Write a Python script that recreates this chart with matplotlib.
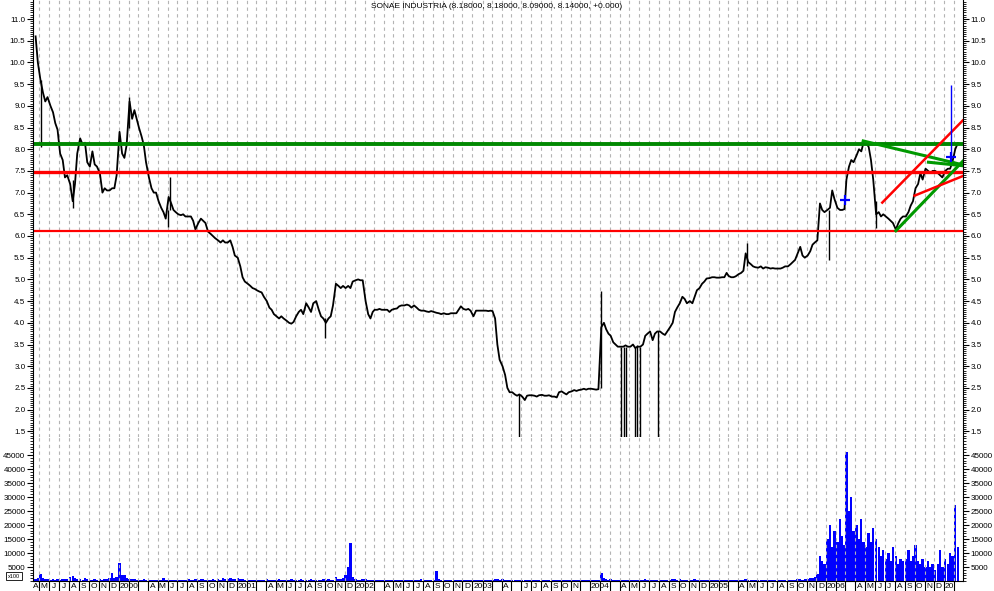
import matplotlib
matplotlib.use("Agg")
import matplotlib.pyplot as plt
import matplotlib.dates as mdates
from matplotlib.ticker import MultipleLocator, FixedLocator
import pandas as pd

plt.rcParams['font.family'] = ['Liberation Sans', 'DejaVu Sans']

title = "SONAE INDUSTRIA (8.18000, 8.18000, 8.09000, 8.14000, +0.000)"

# four readings per month (days 4, 12, 19, 26), from mid April 1999 to mid February 2007
closes = [
    10.6, 10.0,                                   # 1999 Apr
    9.6, 9.3, 9.1, 9.2,  9.0, 8.85, 8.6, 8.45,  7.9, 7.75, 7.35, 7.4,
    7.2, 6.8, 7.2, 7.9,  8.25, 8.1, 8.15, 7.7,  7.6, 7.95, 7.65, 7.6,
    7.45, 7.0, 7.1, 7.05,  7.05, 7.1, 7.1, 7.4,
    8.4, 7.9, 7.8, 8.1,  9.1, 8.7, 8.9, 8.7,  8.5, 8.3, 8.1, 7.7,      # 2000
    7.35, 7.1, 7.0, 7.0,  6.8, 6.65, 6.55, 6.4,  6.9, 6.75, 6.6, 6.55,
    6.5, 6.48, 6.5, 6.45,  6.45, 6.45, 6.35, 6.15,  6.3, 6.4, 6.35, 6.3,
    6.1, 6.05, 6.0, 5.95,  5.9, 5.85, 5.9, 5.85,  5.85, 5.9, 5.75, 5.55,
    5.5, 5.3, 5.05, 4.95,  4.9, 4.85, 4.8, 4.78,  4.75, 4.72, 4.7, 4.6,  # 2001
    4.5, 4.35, 4.3, 4.2,  4.15, 4.1, 4.15, 4.1,  4.05, 4.0, 3.98, 4.02,
    4.15, 4.25, 4.3, 4.2,  4.45, 4.35, 4.25, 4.45,  4.5, 4.3, 4.15, 4.1,
    4.0, 4.1, 4.15, 4.4,  4.9, 4.85, 4.8, 4.85,  4.8, 4.85, 4.8, 4.95,
    4.98, 5.0, 4.98, 4.98,  4.5, 4.2, 4.1, 4.25,  4.3, 4.3, 4.32, 4.3,  # 2002
    4.3, 4.3, 4.25, 4.3,  4.32, 4.33, 4.38, 4.4,  4.4, 4.42, 4.4, 4.35,
    4.4, 4.35, 4.3, 4.28,  4.28, 4.26, 4.25, 4.27,  4.25, 4.23, 4.22, 4.2,
    4.22, 4.2, 4.2, 4.22,  4.22, 4.22, 4.3, 4.38,  4.32, 4.3, 4.32, 4.28,
    4.15, 4.28, 4.28, 4.28,  4.28, 4.28, 4.27, 4.28,  4.27, 4.1, 3.5, 3.15,  # 2003
    3.0, 2.8, 2.5, 2.4,  2.4, 2.35, 2.32, 2.35,  2.3, 2.22, 2.32, 2.33,
    2.33, 2.32, 2.3, 2.33,  2.34, 2.32, 2.32, 2.33,  2.3, 2.3, 2.28, 2.4,
    2.42, 2.38, 2.35, 2.4,  2.42, 2.45, 2.43, 2.45,  2.46, 2.48, 2.46, 2.48,
    2.48, 2.47, 2.46, 2.47,  3.9, 4.0, 3.85, 3.75,  3.7, 3.55, 3.5, 3.45,  # 2004
    3.45, 3.45, 3.48, 3.45,  3.45, 3.5, 3.42, 3.45,  3.45, 3.5, 3.7, 3.75,
    3.8, 3.6, 3.75, 3.8,  3.8, 3.75, 3.72, 3.8,  3.9, 4.0, 4.25, 4.35,
    4.45, 4.6, 4.55, 4.45,  4.5, 4.45, 4.6, 4.75,  4.8, 4.9, 4.95, 5.02,
    5.03, 5.05, 5.05, 5.04,  5.04, 5.05, 5.05, 5.15,  5.08, 5.05, 5.05, 5.07,  # 2005
    5.12, 5.15, 5.2, 5.6,  5.4, 5.35, 5.3, 5.28,  5.27, 5.3, 5.25, 5.28,
    5.27, 5.25, 5.26, 5.25,  5.25, 5.25, 5.27, 5.3,  5.3, 5.35, 5.4, 5.45,
    5.6, 5.75, 5.55, 5.5,  5.55, 5.65, 5.8, 5.85,  5.9, 6.75, 6.6, 6.55,
    6.6, 6.65, 7.05, 6.85,  6.65, 6.6, 6.6, 6.62,  7.3, 7.6, 7.75, 7.7,  # 2006
    7.85, 8.0, 7.95, 8.15,  8.15, 8.05, 7.75, 7.3,  6.5, 6.55, 6.45, 6.5,
    6.45, 6.4, 6.35, 6.3,  6.15, 6.3, 6.4, 6.45,  6.45, 6.55, 6.7, 6.8,
    7.1, 7.2, 7.45, 7.3,  7.55, 7.5, 7.45, 7.5,  7.5, 7.45, 7.4, 7.35,
    7.5, 7.55, 7.55, 7.7,  8.0, 8.14,                                    # 2007
]

volumes = [
    600, 900,
    2500, 1200, 800, 600,  500, 700, 400, 600,  500, 800, 600, 700,
    1500, 1800, 900, 600,  700, 500, 900, 600,  500, 400, 700, 500,
    600, 500, 800, 700,  900, 2800, 1200, 1500,
    6500, 2000, 2200, 1200,  800, 600, 700, 500,  500, 400, 600, 400,
    400, 500, 300, 400,  500, 400, 1200, 400,  500, 400, 300, 500,
    400, 300, 400, 500,  700, 500, 400, 600,  500, 700, 600, 400,
    500, 400, 600, 500,  700, 500, 900, 600,  700, 1000, 800, 600,
    1200, 800, 600, 500,  400, 500, 400, 300,  400, 300, 500, 400,
    600, 500, 400, 300,  400, 600, 400, 500,  500, 400, 600, 300,
    400, 500, 800, 400,  500, 400, 600, 300,  400, 500, 400, 600,
    500, 800, 400, 500,  1500, 800, 600, 900,  2000, 5000, 13500, 1500,
    800, 500, 400, 600,  700, 500, 400, 300,  300, 400, 300, 200,
    300, 200, 300, 400,  500, 300, 400, 300,  400, 300, 500, 400,
    300, 400, 300, 600,  400, 300, 500, 400,  300, 3500, 600, 400,
    300, 400, 300, 500,  400, 300, 400, 300,  300, 200, 400, 300,
    300, 400, 300, 200,  300, 200, 300, 300,  400, 600, 800, 500,
    600, 500, 400, 300,  300, 400, 300, 500,  300, 200, 300, 200,
    200, 300, 200, 300,  200, 300, 200, 200,  300, 200, 300, 400,
    300, 200, 300, 200,  300, 400, 300, 200,  300, 200, 400, 300,
    300, 200, 300, 400,  3000, 1200, 800, 500,  600, 400, 500, 300,
    400, 500, 300, 400,  300, 400, 500, 300,  400, 300, 600, 400,
    500, 400, 300, 400,  300, 400, 300, 300,  500, 600, 700, 500,
    600, 500, 400, 500,  400, 500, 600, 400,  500, 400, 500, 400,
    400, 500, 300, 400,  300, 400, 500, 300,  400, 300, 400, 300,
    300, 400, 500, 800,  500, 400, 300, 400,  300, 400, 300, 300,
    300, 200, 300, 300,  200, 300, 200, 300,  300, 400, 500, 400,
    600, 800, 500, 600,  700, 900, 1200, 1500,  2500, 9000, 7000, 6000,
    15000, 20000, 12000, 18000,  14000, 22000, 16000, 13000,  46000, 25000, 30000, 18000,
    20000, 15000, 22000, 14000,  12000, 17000, 14000, 19000,  15000, 12000, 9000, 11000,
    8000, 10000, 7000, 12000,  9000, 6000, 8000, 7000,  8000, 11000, 7000, 9000,
    13000, 7000, 6000, 8000,  5000, 7000, 5000, 6000,  4000, 6000, 11000, 5000,
    8000, 6000, 10000, 9000,  27000, 12000,
]

# single-day spikes (date, low, high)
wick_dates = ["1999-05-06", "1999-08-12", "2000-02-01", "2000-06-01", "2000-06-08",
              "2001-10-01", "2003-05-25", "2004-02-03", "2004-04-04", "2004-04-13",
              "2004-04-19", "2004-05-18", "2004-05-25", "2004-06-03", "2004-07-28",
              "2005-04-30", "2006-01-10", "2006-06-04"]
wick_lows = [8.05, 6.65, 8.5, 6.2, 6.6, 3.64, 1.0, 2.5, 1.0, 1.0,
             1.0, 1.0, 1.0, 1.0, 1.0, 5.3, 5.45, 6.18]
wick_highs = [9.6, 7.3, 9.2, 6.6, 7.35, 4.1, 2.35, 4.73, 3.45, 3.45,
              3.45, 3.45, 3.5, 3.45, 3.8, 5.85, 6.6, 6.8]

# drawn support / resistance
green_levels = [8.12]
red_levels = [7.48, 6.11]
green_trends = [(("2006-04-25", 8.19), ("2007-02-27", 7.64)),
                (("2006-08-04", 6.12), ("2007-02-27", 7.72)),
                (("2006-11-13", 7.70), ("2007-02-27", 7.62))]
red_trends = [(("2006-06-23", 6.77), ("2007-02-27", 8.66)),
              (("2006-10-01", 6.93), ("2007-02-27", 7.38))]
blue_marks = [("2006-03-01", 6.82), ("2007-01-23", 7.82)]
blue_spike = ("2007-01-23", 7.82, 9.47)

month_letters = {1: "", 2: "", 3: "", 4: "A", 5: "M", 6: "J", 7: "J",
                 8: "A", 9: "S", 10: "O", 11: "N", 12: "D"}
skip_labels = ["2003-05", "2003-12"]

months = pd.period_range("1999-04", "2007-02", freq="M")
slots = [4, 12, 19, 26]
dates = [pd.Timestamp(p.year, p.month, d) for p in months for d in slots][2:2 + len(closes)]

x_left = pd.Timestamp("1999-04-11")
x_right = pd.Timestamp("2007-02-28")

fig = plt.figure(figsize=(9.94, 5.91), dpi=100)
W, H = 994, 591
ax = fig.add_axes([33 / W, (H - 437) / H, 930 / W, 437 / H])
axv = fig.add_axes([33 / W, (H - 581) / H, 930 / W, 144 / H], sharex=ax)

# price
ax.plot(dates, closes, color="black", lw=1.3)
ax.vlines(pd.to_datetime(wick_dates), wick_lows, wick_highs, color="black", lw=1.0)
for lv in green_levels:
    ax.axhline(lv, color="#008800", lw=2.8)
ax.axhline(red_levels[0], color="#ff0000", lw=2.4)
ax.axhline(red_levels[1], color="#ff0000", lw=1.6)
for (d0, v0), (d1, v1) in green_trends:
    ax.plot(pd.to_datetime([d0, d1]), [v0, v1], color="#009900", lw=2.2)
for (d0, v0), (d1, v1) in red_trends:
    ax.plot(pd.to_datetime([d0, d1]), [v0, v1], color="#ff0000", lw=1.8)
ax.vlines(pd.Timestamp(blue_spike[0]), blue_spike[1], blue_spike[2], color="#0000ff", lw=1.0)
ax.plot(pd.to_datetime([m[0] for m in blue_marks]), [m[1] for m in blue_marks],
        ls="none", marker="+", ms=7, mew=1.6, color="#0000ff")

ax.set_ylim(11 - 418 / 43.4, 11 + 19 / 43.4)
ax.set_xlim(x_left, x_right)

# volume
axv.bar(dates, volumes, width=7.5, color="#0000ff", align="center")
axv.set_ylim(0, 144 / 2.8 * 1000)

month_starts = pd.date_range("1999-05-01", "2007-02-01", freq="MS")
for a in (ax, axv):
    a.xaxis.set_major_locator(FixedLocator(mdates.date2num(month_starts)))
    a.grid(axis="x", color="#b4b4b4", lw=0.8, ls=(0, (3, 3)))
    a.spines["top"].set_visible(False)
    a.tick_params(axis="y", which="both", direction="out", left=True, right=True,
                  labelleft=True, labelright=True, labelsize=5.8, width=0.8, pad=1.5)
    a.tick_params(axis="y", which="major", length=4)
    a.tick_params(axis="y", which="minor", length=2, width=0.6)

ax.spines["bottom"].set_visible(False)
ax.tick_params(axis="x", which="both", bottom=False, labelbottom=False)
ax.yaxis.set_major_locator(FixedLocator([1.5 + 0.5 * i for i in range(20)]))
ax.yaxis.set_minor_locator(MultipleLocator(0.05))
ax.yaxis.set_major_formatter(plt.FuncFormatter(lambda v, p: f"{v:.1f}"))

axv.yaxis.set_major_locator(FixedLocator(range(5000, 50000, 5000)))
axv.yaxis.set_minor_locator(MultipleLocator(1000))
axv.yaxis.set_major_formatter(plt.FuncFormatter(lambda v, p: f"{int(v)}"))
axv.tick_params(axis="x", which="major", direction="out", length=10, width=0.8,
                labelbottom=False)

# month / year labels under the axis
lab_months = pd.period_range("1999-04", "2007-01", freq="M")
for p in lab_months:
    key = f"{p.year}-{p.month:02d}"
    if key in skip_labels:
        continue
    if p.month == 1:
        txt = str(p.year) if p.year < 2007 else "20"
        x = pd.Timestamp(p.year, 1, 3)
        axv.text(x, -0.035, txt, ha="left", va="center", fontsize=6,
                 transform=axv.get_xaxis_transform())
    else:
        txt = month_letters[p.month]
        if not txt:
            continue
        x = pd.Timestamp(p.year, p.month, 20 if key == "1999-04" else 15)
        axv.text(x, -0.035, txt, ha="center", va="center", fontsize=6,
                 transform=axv.get_xaxis_transform())

fig.text(497 / W, 1 - 7 / H, title, ha="center", va="center", fontsize=6)
fig.text(14 / W, 1 - 576 / H, "x100", ha="center", va="center", fontsize=4,
         bbox=dict(boxstyle="square,pad=0.3", fc="white", ec="black", lw=0.6))

fig.savefig("out.png", dpi=100)
